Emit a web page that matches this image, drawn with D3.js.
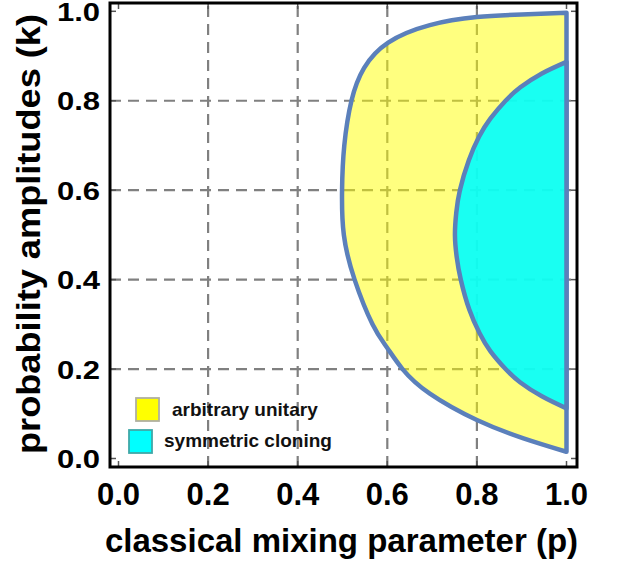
<!DOCTYPE html>
<html><head><meta charset="utf-8">
<script src="https://cdn.jsdelivr.net/npm/d3@7/dist/d3.min.js"></script>
<style>body{margin:0;background:#fff}svg{display:block}</style>
</head><body>
<svg id="chart" width="617" height="567"></svg>
<script>
// ---- data ----
const xTickValues = [0, 0.2, 0.4, 0.6, 0.8, 1.0];
const yTickValues = [0, 0.2, 0.4, 0.6, 0.8, 1.0];
const tickLabels = ["0.0", "0.2", "0.4", "0.6", "0.8", "1.0"];
const gridValues = [0.2, 0.4, 0.6, 0.8];

// outer boundary: arbitrary unitary, k ascending (bottom end -> top end)
const arbitraryK = [0.015, 0.045, 0.086, 0.145, 0.200, 0.250, 0.300, 0.400, 0.500, 0.600, 0.700, 0.800, 0.873, 0.930, 0.969, 0.987, 0.993, 0.997];
const arbitraryP = [1.000, 0.904, 0.800, 0.695, 0.634, 0.598, 0.567, 0.527, 0.503, 0.499, 0.504, 0.520, 0.548, 0.602, 0.695, 0.800, 0.900, 1.000];

// inner boundary: symmetric cloning, k ascending (bottom end -> top end)
const cloningK = [0.112, 0.139, 0.170, 0.200, 0.240, 0.280, 0.333, 0.400, 0.450, 0.500, 0.550, 0.600, 0.667, 0.720, 0.760, 0.800, 0.830, 0.861, 0.887];
const cloningP = [1.000, 0.945, 0.897, 0.864, 0.830, 0.806, 0.783, 0.764, 0.755, 0.751, 0.754, 0.762, 0.782, 0.805, 0.830, 0.864, 0.897, 0.945, 1.000];

const legendLabels = ["arbitrary unitary", "symmetric cloning"];
const xTitle = "classical mixing parameter (p)";
const yTitle = "probability amplitudes (k)";

// ---- drawing ----
const svg = d3.select("#chart");
const FONT = "'Liberation Sans', Arial, Helvetica, sans-serif";
const frame = {x0: 110, y0: 3, x1: 577, y1: 467};
const x = d3.scaleLinear().domain([0, 1]).range([118.5, 566.5]);
const y = d3.scaleLinear().domain([0, 1]).range([458.5, 11.3]);

svg.append("rect").attr("width", 617).attr("height", 567).attr("fill", "#fff");

// grid
const grid = svg.append("g").attr("stroke", "#808080").attr("stroke-width", 2.2).attr("stroke-dasharray", "11,7");
grid.selectAll("line.v").data(gridValues).join("line").attr("class", "v")
  .attr("x1", d => x(d)).attr("x2", d => x(d)).attr("y1", frame.y1).attr("y2", frame.y0);
grid.selectAll("line.h").data(gridValues).join("line").attr("class", "h")
  .attr("y1", d => y(d)).attr("y2", d => y(d)).attr("x1", frame.x0).attr("x2", frame.x1);

// regions
const line = d3.line().x(d => x(d[0])).y(d => y(d[1])).curve(d3.curveNatural);
const outer = arbitraryP.map((p, i) => [p, arbitraryK[i]]);
const inner = cloningP.map((p, i) => [p, cloningK[i]]);
const STROKE = "#5b80bb";

svg.append("path").attr("d", line(outer) + "Z")
  .attr("fill", "#ffff00").attr("fill-opacity", 0.5)
  .attr("stroke", STROKE).attr("stroke-width", 4.5).attr("stroke-linejoin", "round");
svg.append("path").attr("d", line(inner) + "Z")
  .attr("fill", "#00ffff").attr("fill-opacity", 0.9)
  .attr("stroke", STROKE).attr("stroke-width", 4.5).attr("stroke-linejoin", "round");

// frame ticks
const tk = svg.append("g").attr("stroke", "#555").attr("stroke-width", 1.5);
xTickValues.forEach(v => {
  tk.append("line").attr("x1", x(v)).attr("x2", x(v)).attr("y1", frame.y1).attr("y2", frame.y1 - 6);
  tk.append("line").attr("x1", x(v)).attr("x2", x(v)).attr("y1", frame.y0).attr("y2", frame.y0 + 6);
});
yTickValues.forEach(v => {
  tk.append("line").attr("y1", y(v)).attr("y2", y(v)).attr("x1", frame.x0).attr("x2", frame.x0 + 6);
  tk.append("line").attr("y1", y(v)).attr("y2", y(v)).attr("x1", frame.x1).attr("x2", frame.x1 - 6);
});

// frame
svg.append("rect").attr("x", frame.x0).attr("y", frame.y0)
  .attr("width", frame.x1 - frame.x0).attr("height", frame.y1 - frame.y0)
  .attr("fill", "none").attr("stroke", "#000").attr("stroke-width", 3);

// tick labels
svg.append("g").selectAll("text").data(xTickValues).join("text")
  .attr("x", d => x(d)).attr("y", 505)
  .attr("text-anchor", "middle").attr("font-family", FONT).attr("font-weight", "bold")
  .attr("font-size", 31).attr("fill", "#000")
  .text((d, i) => tickLabels[i]);
svg.append("g").selectAll("text").data(yTickValues).join("text")
  .attr("transform", d => `translate(100,${y(d) + 9.5}) scale(1,0.84)`)
  .attr("text-anchor", "end").attr("font-family", FONT).attr("font-weight", "bold")
  .attr("font-size", 31).attr("fill", "#000")
  .text((d, i) => tickLabels[i]);

// axis titles
svg.append("text").attr("x", 341.5).attr("y", 551.5)
  .attr("text-anchor", "middle").attr("font-family", FONT).attr("font-weight", "bold")
  .attr("font-size", 33).attr("fill", "#000").text(xTitle);
svg.append("text").attr("transform", "translate(40,234) rotate(-90)")
  .attr("text-anchor", "middle").attr("font-family", FONT).attr("font-weight", "bold")
  .attr("font-size", 33).attr("fill", "#000")
  .attr("textLength", 440).attr("lengthAdjust", "spacingAndGlyphs").text(yTitle);

// legend
const legendFill = ["#ffff00", "#00ffff"];
const legendStroke = ["#b0b0a0", "#40a8a8"];
const legendPos = [{sx: 136, sy: 398, tx: 172, ty: 416}, {sx: 129, sy: 430, tx: 164, ty: 447}];
legendLabels.forEach((lab, i) => {
  const p = legendPos[i];
  svg.append("rect").attr("x", p.sx).attr("y", p.sy).attr("width", 23).attr("height", 23)
    .attr("fill", legendFill[i]).attr("stroke", legendStroke[i]).attr("stroke-width", 1.8);
  svg.append("text").attr("x", p.tx).attr("y", p.ty)
    .attr("font-family", FONT).attr("font-weight", "bold").attr("font-size", 19)
    .attr("fill", "#111").text(lab);
});
</script>
</body></html>
